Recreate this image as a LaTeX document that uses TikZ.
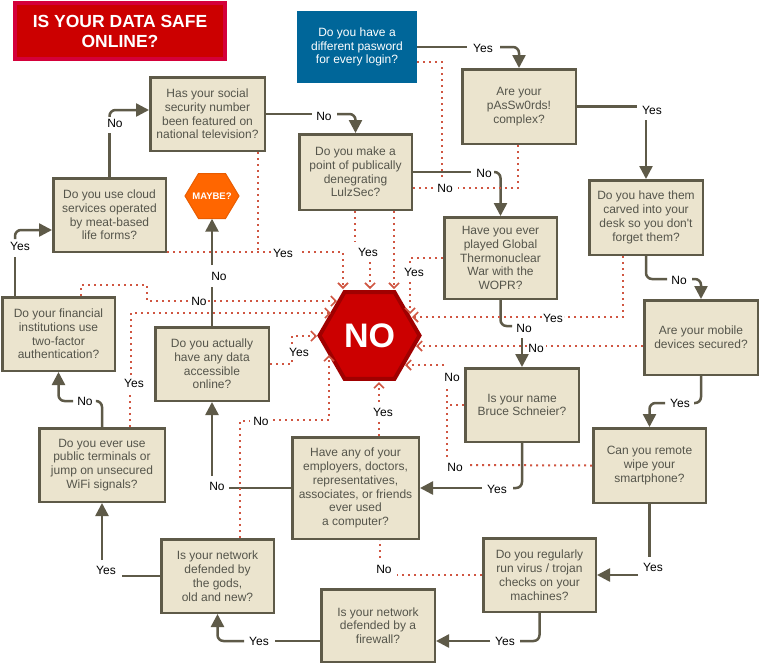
\documentclass[tikz,border=0pt]{standalone}
\usepackage{fontspec}
\setmainfont{Liberation Sans}
\usetikzlibrary{arrows.meta}
\definecolor{boxfill}{RGB}{235,228,206}
\definecolor{boxline}{RGB}{94,90,72}
\definecolor{boxtext}{RGB}{85,85,75}
\definecolor{dotred}{RGB}{208,86,66}
\definecolor{nored}{RGB}{204,0,0}
\definecolor{noborder}{RGB}{160,0,0}
\definecolor{maybeor}{RGB}{255,102,0}
\definecolor{maybebd}{RGB}{232,92,0}
\definecolor{qblue}{RGB}{0,102,153}
\definecolor{titlered}{RGB}{204,0,0}
\definecolor{titlebd}{RGB}{212,0,58}
\begin{document}
\begin{tikzpicture}[x=1pt,y=-1pt,
  qbox/.style={draw=boxline, fill=boxfill, line width=2.5pt, align=center, text=boxtext,
    font=\fontsize{12}{13.8}\selectfont, inner sep=1pt},
  sz/.style 2 args={minimum width=#1pt-2.5pt, minimum height=#2pt-2.5pt},
  lbl/.style={font=\fontsize{12}{14}\selectfont, text=black, fill=white, inner sep=1.5pt},
  flow/.style={draw=boxline, line width=2.5pt, rounded corners=6pt},
  flowarr/.style={flow, -{Triangle[length=13pt,width=13pt]}},
  redflow/.style={draw=dotred, line width=2pt, dash pattern=on 2pt off 4pt},
  redarr/.style={redflow, -{Straight Barb[length=5pt,width=10pt,line width=1.6pt]}},
]
\useasboundingbox (0,0) rectangle (760,665);
\fill[white] (0,0) rectangle (760,665);

% title
\node[fill=titlered, draw=titlebd, line width=4pt, minimum width=210pt, minimum height=56pt,
  text=white, font=\fontsize{17.5}{20}\selectfont\bfseries, align=center, inner sep=0pt]
  (title) at (120,31) {IS YOUR DATA SAFE\\ONLINE?};

% question boxes
\node[qbox, draw=qblue, fill=qblue, text=white, sz={120}{72}] (blue) at (357,47)
  {Do you have a\\different pasword\\for every login?};
\node[qbox, sz={116}{77}] (are) at (519,106.5) {Are your\\pAsSw0rds!\\complex?};
\node[qbox, sz={116}{77}] (carved) at (646,217.5)
  {Do you have them\\carved into your\\desk so you don\textquotesingle t\\forget them?};
\node[qbox, sz={116}{77}] (mobile) at (701,337.5) {Are your mobile\\devices secured?};
\node[qbox, sz={115}{77}] (remote) at (649.5,465.5) {Can you remote\\wipe your\\smartphone?};
\node[qbox, sz={115}{76}] (virus) at (539.5,575)
  {Do you regularly\\run virus / trojan\\checks on your\\machines?};
\node[qbox, sz={116}{75}] (firewall) at (378,625.5) {Is your network\\defended by a\\firewall?};
\node[qbox, sz={115}{76}] (gods) at (217.5,576)
  {Is your network\\defended by\\the gods,\\old and new?};
\node[qbox, sz={128}{76}] (public) at (102,465)
  {Do you ever use\\public terminals or\\jump on unsecured\\WiFi signals?};
\node[qbox, sz={115}{76}] (financial) at (58.5,334)
  {Do your financial\\institutions use\\two-factor\\authentication?};
\node[qbox, sz={115}{76}] (cloud) at (109.5,215)
  {Do you use cloud\\services operated\\by meat-based\\life forms?};
\node[qbox, sz={117}{76}] (social) at (207.5,114)
  {Has your social\\security number\\been featured on\\national television?};
\node[qbox, sz={115}{78}] (lulz) at (355.5,172)
  {Do you make a\\point of publically\\denegrating\\LulzSec?};
\node[qbox, sz={115}{84}] (wopr) at (500.5,258)
  {Have you ever\\played Global\\Thermonuclear\\War with the\\WOPR?};
\node[qbox, sz={116}{76}] (bruce) at (522,405) {Is your name\\Bruce Schneier?};
\node[qbox, sz={129}{104}] (employers) at (355.5,488)
  {Have any of your\\employers, doctors,\\representatives,\\associates, or friends\\ever used\\a computer?};
\node[qbox, sz={116}{76}] (actually) at (212,364)
  {Do you actually\\have any data\\accessible\\online?};

% hexagons
\filldraw[fill=maybeor, draw=maybebd, line width=1pt]
  (185,196) -- (198.5,173.5) -- (225.5,173.5) -- (239,196) -- (225.5,218.5) -- (198.5,218.5) -- cycle;
\node[minimum width=54pt, minimum height=45pt, inner sep=0pt, text=white,
  font=\fontsize{9.5}{10}\selectfont\bfseries] (maybe) at (212,196) {MAYBE?};
\filldraw[fill=nored, draw=noborder, line width=4pt]
  (319.5,335.5) -- (344.5,292.2) -- (394.5,292.2) -- (419.5,335.5) -- (394.5,378.8) -- (344.5,378.8) -- cycle;
\node[minimum width=100pt, minimum height=86pt, inner sep=0pt, text=white,
  font=\fontsize{34}{34}\selectfont\bfseries] (no) at (369.5,335.5) {NO};

% targets on the NO hexagon
\coordinate (nA) at (343,289);
\coordinate (nB) at (370,289);
\coordinate (nC) at (394,289);
\coordinate (nD) at (410,314);
\coordinate (nE) at (412,317);
\coordinate (nF) at (416,346);
\coordinate (nG) at (405,365);
\coordinate (nH) at (379,382);
\coordinate (nI) at (329,355);
\coordinate (nJ) at (317,336);
\coordinate (nK) at (337,301);
\coordinate (nL) at (331,313);

% solid connectors
\draw[flow] (blue.east) -- (467,47);
\draw[flowarr] (500,47) -- (519,47) -- (are.north);
\draw[flow] (are.east) -- (637,106.5);
\draw[flowarr] (646,120) -- (carved.north);
\draw[flow] (carved.south) -- (646,279) -- (667,279);
\draw[flowarr] (692,279) -- (701,279) -- (mobile.north);
\draw[flow] (mobile.south) -- (701,403) -- (694,403);
\draw[flowarr] (665,403) -- (649.5,403) -- (remote.north);
\draw[flow] (remote.south) -- (649.5,557);
\draw[flowarr] (638,575) -- (virus.east);
\draw[flow] (virus.south) -- (539.5,641) -- (520,641);
\draw[flowarr] (490,641) -- (firewall.east |- 0,641);
\draw[flow] (firewall.west |- 0,641) -- (275,641);
\draw[flowarr] (244,641) -- (217.5,641) -- (gods.south);
\draw[flow] (gods.west) -- (122,576);
\draw[flowarr] (102,560) -- (public.south);
\draw[flow] (public.north) -- (102,401) -- (97,401);
\draw[flowarr] (73,401) -- (58.5,401) -- (financial.south);
\draw[flow] (15,0 |- financial.north) -- (15,257);
\draw[flowarr] (15,239) -- (15,230) -- (cloud.west |- 0,230);
\draw[flow] (cloud.north) -- (109.5,133);
\draw[flowarr] (109.5,117) -- (109.5,110) -- (social.west |- 0,110);
\draw[flow] (social.east) -- (312,114);
\draw[flowarr] (337,114) -- (355.5,114) -- (lulz.north);
\draw[flow] (lulz.east) -- (471,172);
\draw[flowarr] (494,172) -- (500.5,172) -- (wopr.north);
\draw[flow] (wopr.south) -- (500.5,326) -- (512,326);
\draw[flowarr] (522,338) -- (bruce.north);
\draw[flow] (bruce.south) -- (522,488) -- (513,488);
\draw[flowarr] (482,488) -- (employers.east);
\draw[flow] (employers.west) -- (229,488);
\draw[flowarr] (212,476) -- (actually.south);
\draw[flow] (actually.north) -- (212,287);
\draw[flowarr] (212,265) -- (maybe.south);

% dotted connectors into NO
\draw[redflow] (cloud.east |- 0,252) -- (272,252);
\draw[redflow] (258,0 |- social.south) -- (258,252);
\draw[redarr] (302,252) -- (343,252) -- (nA);
\draw[redflow] (355,0 |- lulz.south) -- (355,242);
\draw[redarr] (370,262) -- (nB);
\draw[redflow] (blue.east |- 0,62) -- (442,62) -- (442,180);
\draw[redflow] (518,0 |- are.south) -- (518,188) -- (458,188);
\draw[redflow] (433,188) -- (lulz.east |- 0,188);
\draw[redarr] (394,0 |- lulz.south) -- (nC);
\draw[redflow] (wopr.west) -- (410,258) -- (410,265);
\draw[redarr] (410,282) -- (nD);
\draw[redflow] (623,0 |- carved.south) -- (623,317) -- (564,317);
\draw[redarr] (542,317) -- (nE);
\draw[redflow] (mobile.west |- 0,346) -- (546,346);
\draw[redarr] (527,346) -- (nF);
\draw[redflow] (remote.west) -- (470,465);
\draw[redflow] (447,457) -- (447,389);
\draw[redflow] (bruce.west) -- (447,405);
\draw[redarr] (444,365) -- (nG);
\draw[redflow] (379,0 |- employers.north) -- (379,422);
\draw[redarr] (379,402) -- (nH);
\draw[redflow] (virus.west) -- (397,575);
\draw[redflow] (380,558) -- (380,0 |- employers.south);
\draw[redflow] (240,0 |- gods.north) -- (240,421) -- (250,421);
\draw[redarr] (273,420) -- (329,420) -- (nI);
\draw[redarr] (actually.east |- 0,364) -- (292,364) -- (292,336) -- (nJ);
\draw[redflow] (81,0 |- financial.north) -- (81,285) -- (147,285) -- (147,301) -- (190,301);
\draw[redarr] (208,301) -- (nK);
\draw[redflow] (130,0 |- public.north) -- (130,392);
\draw[redarr] (131,375) -- (131,313) -- (nL);

% labels
\node[lbl] (s1) at (483,48) {Yes};
\node[lbl] (s2) at (652,110) {Yes};
\node[lbl] (s3) at (679,280) {No};
\node[lbl] (s4) at (680,403) {Yes};
\node[lbl] (s5) at (653,567) {Yes};
\node[lbl] (s6) at (505,641) {Yes};
\node[lbl] (s7) at (259,641) {Yes};
\node[lbl] (s8) at (106,570) {Yes};
\node[lbl] (s9) at (85,401) {No};
\node[lbl] (s10) at (20,246) {Yes};
\node[lbl] (s11) at (115,123) {No};
\node[lbl] (s12) at (324,116) {No};
\node[lbl] (s13) at (484,173) {No};
\node[lbl] (s14) at (524,328) {No};
\node[lbl] (s15) at (497,489) {Yes};
\node[lbl] (s16) at (217,486) {No};
\node[lbl] (s17) at (219,276) {No};
\node[lbl] (d1) at (283,253) {Yes};
\node[lbl] (d2) at (368,252) {Yes};
\node[lbl] (d3) at (445,188) {No};
\node[lbl] (d4) at (414,272) {Yes};
\node[lbl] (d5) at (553,318) {Yes};
\node[lbl] (d6) at (536,348) {No};
\node[lbl] (d7) at (455,467) {No};
\node[lbl] (d8) at (452,377) {No};
\node[lbl] (d9) at (383,412) {Yes};
\node[lbl] (d10) at (384,569) {No};
\node[lbl] (d11) at (261,421) {No};
\node[lbl] (d12) at (299,352) {Yes};
\node[lbl] (d13) at (199,301) {No};
\node[lbl] (d14) at (134,383) {Yes};
\end{tikzpicture}
\end{document}
